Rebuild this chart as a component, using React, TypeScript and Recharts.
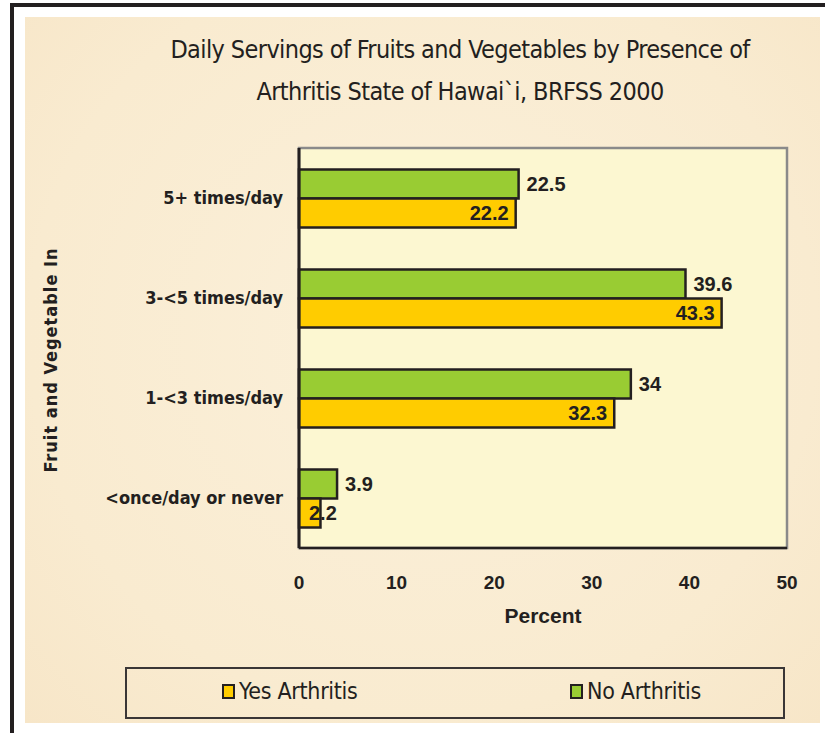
import React from 'react';
import {
  BarChart,
  Bar,
  XAxis,
  YAxis,
  CartesianGrid,
  LabelList,
  Legend,
  ReferenceArea,
} from 'recharts';

// categories top to bottom
const categories = ['5+ times/day', '3-<5 times/day', '1-<3 times/day', '<once/day or never'];
const noArthritis = [22.5, 39.6, 34, 3.9];
const yesArthritis = [22.2, 43.3, 32.3, 2.2];
const xTicks = [0, 10, 20, 30, 40, 50];

const data = categories.map((name, i) => ({
  name,
  no: noArthritis[i],
  yes: yesArthritis[i],
}));

const GREEN = '#99CC33';
const YELLOW = '#FFCC00';
const INK = '#231F20';
const FANCY = '"DejaVu Sans Condensed", "Open Sans", sans-serif';
const PLAIN = '"Liberation Sans", Arial, sans-serif';

const legendItems = [
  { label: 'Yes Arthritis', color: YELLOW },
  { label: 'No Arthritis', color: GREEN },
];

const LegendBox = () => (
  <div
    style={{
      width: 656,
      height: 48,
      border: '2px solid #3a3636',
      position: 'relative',
      fontFamily: FANCY,
      fontSize: 23,
      color: INK,
    }}
  >
    {legendItems.map((it, i) => (
      <div
        key={it.label}
        style={{
          position: 'absolute',
          left: i === 0 ? 95 : 443,
          top: 9,
          display: 'flex',
          alignItems: 'center',
          letterSpacing: -0.3,
        }}
      >
        <span
          style={{
            display: 'inline-block',
            width: 9,
            height: 11,
            background: it.color,
            border: '2px solid ' + INK,
            marginRight: 4,
          }}
        />
        {it.label}
      </div>
    ))}
  </div>
);

const YTitle = () => (
  <text
    x={50}
    y={360}
    transform="rotate(-90, 50, 360)"
    textAnchor="middle"
    dominantBaseline="central"
    fontFamily={FANCY}
    fontWeight="bold"
    fontSize={18}
    letterSpacing={1}
    fill={INK}
  >
    Fruit and Vegetable In
  </text>
);

// inside-end label; spills past a bar that is too short to hold it
const YesLabel = (props: any) => {
  const { x, y, width, height, value } = props;
  const fits = width > 50;
  return (
    <text
      x={fits ? x + width - 7 : x + 10}
      y={y + height / 2}
      textAnchor={fits ? 'end' : 'start'}
      dominantBaseline="central"
      fill={INK}
      fontFamily={PLAIN}
      fontWeight="bold"
      fontSize={20}
    >
      {value}
    </text>
  );
};

export default function App() {
  return (
    <div
      style={{
        position: 'absolute',
        left: 0,
        top: 0,
        width: 825,
        height: 733,
        background: '#fff',
        overflow: 'hidden',
      }}
    >
      {/* frame */}
      <div style={{ position: 'absolute', left: 10, top: 3, width: 815, height: 4, background: INK }} />
      <div style={{ position: 'absolute', left: 10, top: 3, width: 4, height: 730, background: INK }} />
      <div
        style={{
          position: 'absolute',
          left: 25,
          top: 17,
          width: 795,
          height: 706,
          background: 'radial-gradient(ellipse at 50% 45%, #FBF0DA 0%, #F9EBD0 70%, #F7E6C8 100%)',
        }}
      />
      <div
        style={{
          position: 'absolute',
          left: 0,
          top: 29,
          width: 920,
          textAlign: 'center',
          fontFamily: FANCY,
          fontSize: 25,
          lineHeight: '42px',
          color: INK,
          letterSpacing: -0.6,
        }}
      >
        Daily Servings of Fruits and Vegetables by Presence of
        <br />
        Arthritis State of Hawai`i, BRFSS 2000
      </div>
      <div style={{ position: 'absolute', left: 0, top: 0 }}>
        <BarChart
          width={825}
          height={733}
          data={data}
          layout="vertical"
          margin={{ top: 148, right: 38, bottom: 110, left: 0 }}
          barCategoryGap="21.5%"
          barGap={0}
        >
          <CartesianGrid fill="#FCF7D1" horizontal={false} vertical={false} />
          <ReferenceArea x1={0} x2={50} fill="none" stroke="#8a8a8a" strokeWidth={2.5} />
          <XAxis
            type="number"
            domain={[0, 50]}
            ticks={xTicks}
            height={75}
            tickLine={false}
            axisLine={{ stroke: INK, strokeWidth: 2.5 }}
            tickMargin={22}
            tick={{ fill: INK, fontFamily: PLAIN, fontWeight: 'bold', fontSize: 19 }}
            label={{
              value: 'Percent',
              position: 'insideBottom',
              offset: 0,
              fill: INK,
              fontFamily: PLAIN,
              fontWeight: 'bold',
              fontSize: 21,
            }}
          />
          <YAxis
            type="category"
            dataKey="name"
            width={299}
            tickLine={false}
            axisLine={{ stroke: INK, strokeWidth: 3 }}
            tickMargin={10}
            tick={{ fill: INK, fontFamily: FANCY, fontWeight: 'bold', fontSize: 18 }}
            label={<YTitle />}
          />
          <Bar dataKey="no" fill={GREEN} stroke={INK} strokeWidth={2.5} isAnimationActive={false}>
            <LabelList
              dataKey="no"
              position="right"
              offset={8}
              fill={INK}
              fontFamily={PLAIN}
              fontWeight="bold"
              fontSize={20}
            />
          </Bar>
          <Bar dataKey="yes" fill={YELLOW} stroke={INK} strokeWidth={2.5} isAnimationActive={false}>
            <LabelList dataKey="yes" content={<YesLabel />} />
          </Bar>
          <Legend
            layout="horizontal"
            verticalAlign="middle"
            align="center"
            wrapperStyle={{ position: 'absolute', left: 125, top: 667, width: 'auto' }}
            content={() => <LegendBox />}
          />
        </BarChart>
      </div>
    </div>
  );
}
